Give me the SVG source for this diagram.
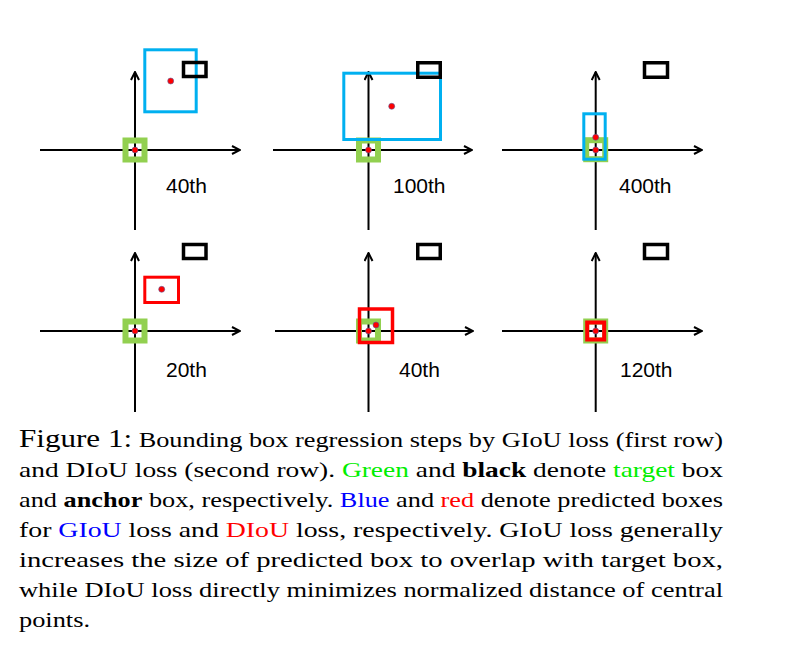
<svg xmlns="http://www.w3.org/2000/svg" width="789" height="663" viewBox="0 0 789 663">
<style>
.ax{stroke:#000;stroke-width:2;fill:none}
.tgt{fill:none;stroke:#92D050;stroke-width:6}
.anc{fill:none;stroke:#000;stroke-width:3.5}
.giou{fill:none;stroke:#00B0F0;stroke-width:3}
.diou{fill:none;stroke:#FF0000;stroke-width:3.5}
.dot{fill:#FF0000;stroke:#5a5a9a;stroke-width:0.6}
.lbl{font-family:"Liberation Sans",Arial,sans-serif;font-size:21px;fill:#000}
.cap{font-family:"Liberation Serif","Times New Roman",serif;font-size:22px;fill:#000}
.big{font-size:26px}
.b{font-weight:bold}
.g{fill:#00EE00}
.bl{fill:#0000FF}
.r{fill:#FF0000}
</style>
<defs>
<marker id="arr" viewBox="0 0 10 10" refX="9" refY="5" markerWidth="10" markerHeight="10" markerUnits="userSpaceOnUse" orient="auto">
<path d="M1,1 L9,5 L1,9" fill="none" stroke="#000" stroke-width="2"/>
</marker>
</defs>
<g id="connectors">
<line class="ax" x1="40" y1="150" x2="240" y2="150" marker-end="url(#arr)"/>
<line class="ax" x1="135" y1="230" x2="135" y2="72" marker-end="url(#arr)"/>
<line class="ax" x1="273" y1="150" x2="472" y2="150" marker-end="url(#arr)"/>
<line class="ax" x1="368.5" y1="230" x2="368.5" y2="72" marker-end="url(#arr)"/>
<line class="ax" x1="502" y1="150" x2="702" y2="150" marker-end="url(#arr)"/>
<line class="ax" x1="595.7" y1="230" x2="595.7" y2="72" marker-end="url(#arr)"/>
<line class="ax" x1="40" y1="331" x2="240" y2="331" marker-end="url(#arr)"/>
<line class="ax" x1="135" y1="412" x2="135" y2="253" marker-end="url(#arr)"/>
<line class="ax" x1="275" y1="331" x2="473" y2="331" marker-end="url(#arr)"/>
<line class="ax" x1="368.5" y1="412" x2="368.5" y2="253" marker-end="url(#arr)"/>
<line class="ax" x1="502" y1="331" x2="702" y2="331" marker-end="url(#arr)"/>
<line class="ax" x1="595.7" y1="412" x2="595.7" y2="253" marker-end="url(#arr)"/>
</g>
<g id="giou-40th">
<rect class="tgt" x="125.5" y="140.5" width="19" height="19"/>
<rect class="giou" x="144.8" y="49.8" width="51.4" height="62"/>
<rect class="anc" x="183.5" y="62.5" width="22.5" height="14"/>
<circle class="dot" cx="135" cy="150" r="3"/>
<circle class="dot" cx="170.7" cy="81" r="3"/>
<text class="lbl" x="166" y="193">40th</text>
</g>
<g id="giou-100th">
<rect class="tgt" x="359" y="140.5" width="19" height="19"/>
<rect class="giou" x="343.8" y="73.2" width="96.7" height="66.3"/>
<rect class="anc" x="417.75" y="62.75" width="22.5" height="14.5"/>
<circle class="dot" cx="368.5" cy="150" r="3"/>
<circle class="dot" cx="391.7" cy="106.3" r="3"/>
<text class="lbl" x="393" y="193">100th</text>
</g>
<g id="giou-400th">
<rect class="tgt" x="586.2" y="140.2" width="19" height="19"/>
<rect class="giou" x="583.8" y="113.8" width="21.4" height="45.4"/>
<rect class="anc" x="644.5" y="62.75" width="23" height="14.5"/>
<circle class="dot" cx="595.7" cy="137.3" r="3"/>
<circle class="dot" cx="595.7" cy="150" r="3"/>
<text class="lbl" x="619" y="193">400th</text>
</g>
<g id="diou-20th">
<rect class="tgt" x="125.5" y="321.5" width="19" height="19"/>
<rect class="diou" x="144.8" y="277.2" width="33.7" height="25.3" style="stroke-width:3"/>
<rect class="anc" x="183.5" y="244.5" width="22.5" height="14"/>
<circle class="dot" cx="135" cy="331" r="3"/>
<circle class="dot" cx="161.7" cy="289.3" r="3"/>
<text class="lbl" x="166" y="377">20th</text>
</g>
<g id="diou-40th">
<rect class="tgt" x="359" y="321.5" width="19" height="19"/>
<rect class="diou" x="359.5" y="309" width="33" height="33.5"/>
<rect class="anc" x="417.75" y="244.5" width="22.5" height="14"/>
<circle class="dot" cx="368.5" cy="331" r="3"/>
<circle class="dot" cx="376" cy="325" r="3"/>
<text class="lbl" x="399" y="377">40th</text>
</g>
<g id="diou-120th">
<rect class="tgt" x="586.2" y="321.5" width="19" height="19"/>
<rect class="diou" x="587.2" y="322.5" width="17" height="17" style="stroke-width:4"/>
<rect class="anc" x="644.5" y="244.5" width="23" height="14"/>
<circle class="dot" cx="595.7" cy="331" r="3"/>
<text class="lbl" x="620" y="377">120th</text>
</g>
<g id="caption">
<text class="cap" x="19" y="447" textLength="704" lengthAdjust="spacingAndGlyphs"><tspan class="big">Figure 1:</tspan> Bounding box regression steps by GIoU loss (first row)</text>
<text class="cap" x="19" y="477" textLength="704" lengthAdjust="spacingAndGlyphs">and DIoU loss (second row). <tspan class="g">Green</tspan> and <tspan class="b">black</tspan> denote <tspan class="g">target</tspan> box</text>
<text class="cap" x="19" y="507" textLength="704" lengthAdjust="spacingAndGlyphs">and <tspan class="b">anchor</tspan> box, respectively. <tspan class="bl">Blue</tspan> and <tspan class="r">red</tspan> denote predicted boxes</text>
<text class="cap" x="19" y="537" textLength="704" lengthAdjust="spacingAndGlyphs">for <tspan class="bl">GIoU</tspan> loss and <tspan class="r">DIoU</tspan> loss, respectively. GIoU loss generally</text>
<text class="cap" x="19" y="567" textLength="704" lengthAdjust="spacingAndGlyphs">increases the size of predicted box to overlap with target box,</text>
<text class="cap" x="19" y="597" textLength="704" lengthAdjust="spacingAndGlyphs">while DIoU loss directly minimizes normalized distance of central</text>
<text class="cap" x="19" y="627" textLength="71" lengthAdjust="spacingAndGlyphs">points.</text>
</g>
</svg>
